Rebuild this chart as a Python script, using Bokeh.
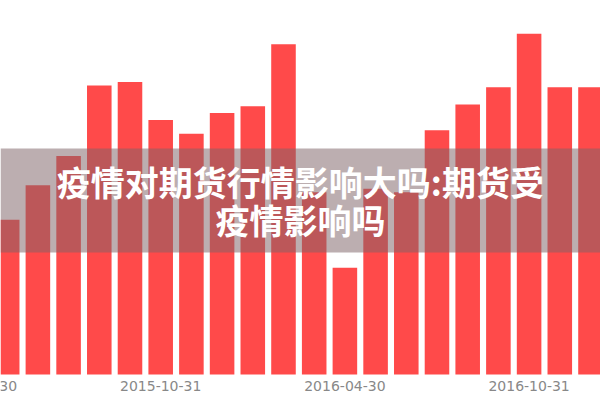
import pandas as pd
from bokeh.plotting import figure
from bokeh.models import Range1d, BoxAnnotation, Label, ColumnDataSource
from bokeh.core.properties import value
from bokeh.embed import file_html
from bokeh.resources import INLINE

# ---- data ----
months = ["2015-05-31", "2015-06-30", "2015-07-31", "2015-08-31", "2015-09-30",
          "2015-10-31", "2015-11-30", "2015-12-31", "2016-01-31", "2016-02-29",
          "2016-03-31", "2016-04-30", "2016-05-31", "2016-06-30", "2016-07-31",
          "2016-08-31", "2016-09-30", "2016-10-31", "2016-11-30", "2016-12-31"]
values = [45, 55, 63.5, 84, 85, 74, 70, 76, 78, 96,
          53, 31, 54, 53, 71, 78.5, 83.5, 99, 83.5, 83.5]
tick_labels = ["2015-04-30", "2015-10-31", "2016-04-30", "2016-10-31"]
title_lines = ["疫情对期货行情影响大吗:期货受", "疫情影响吗"]

base = pd.Period(months[0], "M")
xs = list(range(len(months)))
tick_pos = [(pd.Period(t, "M") - base).n for t in tick_labels]

bars = ColumnDataSource(dict(x=xs, top=values, month=months))
ticks = ColumnDataSource(dict(x=tick_pos, text=tick_labels,
                              y=[-3.49] * len(tick_pos)))

W, H = 600, 400
p = figure(width=W, height=H, output_backend="svg", toolbar_location=None,
           x_range=Range1d(-0.218, 19.326), y_range=Range1d(-7.56, 108.7),
           x_axis_type=None, y_axis_type=None,
           min_border_left=0, min_border_right=0, min_border_top=0,
           min_border_bottom=0, background_fill_color="white",
           border_fill_color="white", outline_line_color=None)

p.vbar(x="x", top="top", width=0.80, bottom=0, source=bars,
       fill_color="#FF4A4A", line_color=None)

p.xgrid.visible = False
p.ygrid.visible = False

# date labels under the bars
p.text(x="x", y="y", text="text", source=ticks, text_align="center",
       text_baseline="middle", text_font=value("DejaVu Sans"),
       text_font_size="14px", text_color="#888888")

# translucent band with the title
p.add_layout(BoxAnnotation(bottom=35.47, top=65.7, fill_color="#7f6468",
                           fill_alpha=0.52, line_color=None))

for i, line in enumerate(title_lines):
    p.add_layout(Label(x=9.55, y=56.1 - i * 11.05, text=line,
                       text_align="center", text_baseline="middle",
                       text_font="Noto Sans CJK SC", text_font_style="bold",
                       text_font_size="34px", text_color="white"))

open("out.html", "w").write(file_html(p, INLINE))
